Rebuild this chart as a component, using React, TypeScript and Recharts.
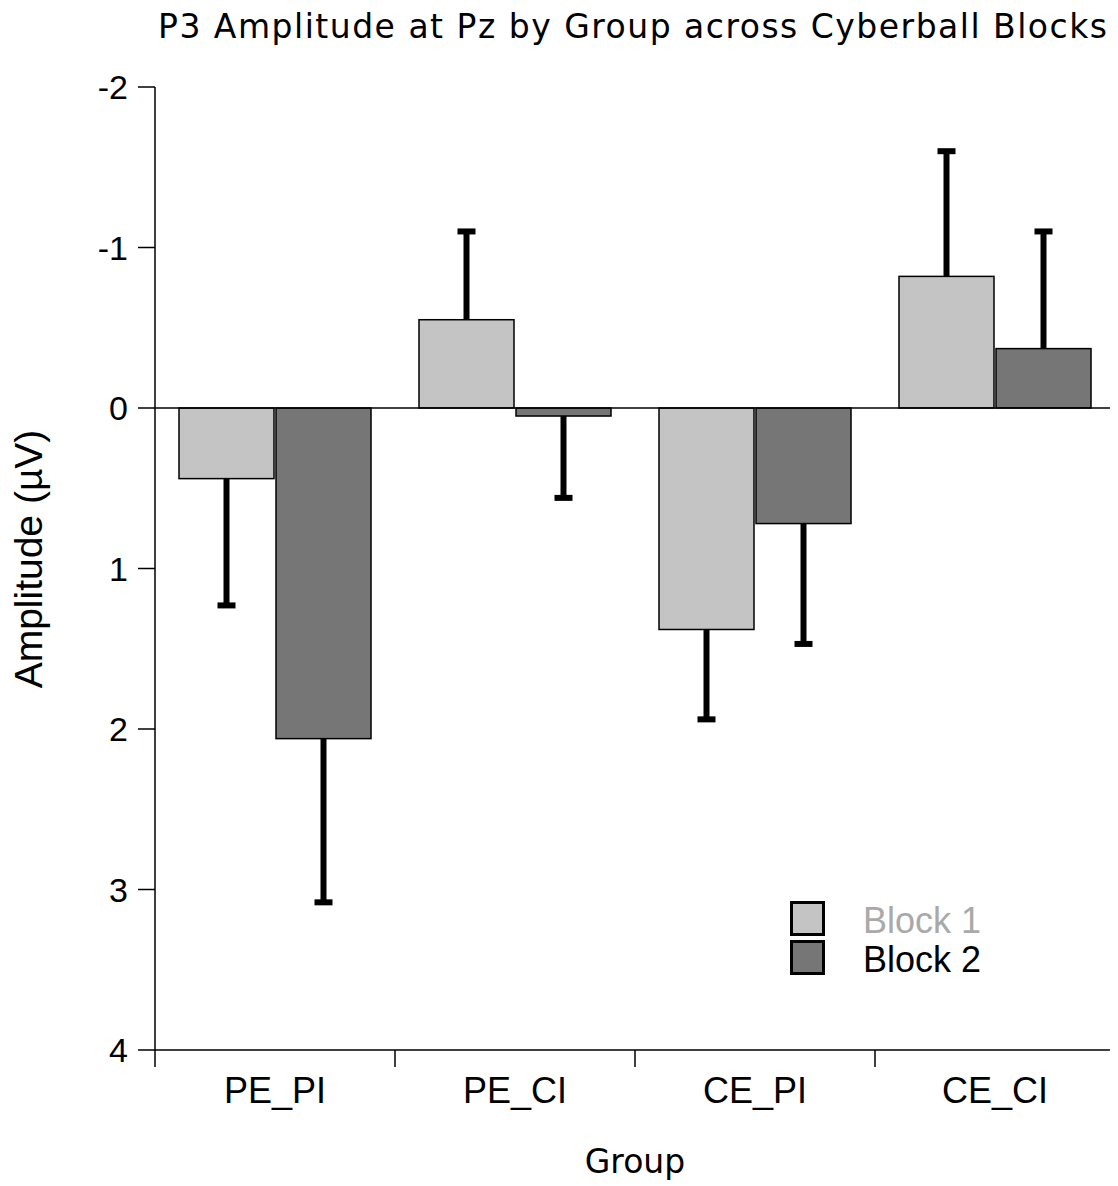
import React from "react";
import { BarChart, Bar, XAxis, YAxis, ReferenceLine, Legend } from "recharts";

const groups = ["PE_PI", "PE_CI", "CE_PI", "CE_CI"];
const block1 = [0.44, -0.55, 1.38, -0.82];
const block2 = [2.06, 0.05, 0.72, -0.37];
const block1Err = [0.79, 0.55, 0.56, 0.78];
const block2Err = [1.02, 0.51, 0.75, 0.73];
const yTicks = [-2, -1, 0, 1, 2, 3, 4];

const data = groups.map((g, i) => ({
  group: g,
  b1: block1[i],
  b2: block2[i],
  b1Err: block1Err[i],
  b2Err: block2Err[i],
}));

const W = 1110;
const H = 1178;
const arial = "'Liberation Sans', Arial, Helvetica, sans-serif";
const lucida = "'DejaVu Sans', 'Open Sans', sans-serif";
const B1_FILL = "#c4c4c4";
const B2_FILL = "#767676";
const legendText: Record<string, string> = { b1: "#a9a9a9", b2: "#000" };

// bar rect + one-sided error bar pointing away from zero (axis is reversed)
function barWithError(props: any, valKey: string, errKey: string) {
  const { x, y, width, height, fill, payload } = props;
  const v = payload[valKey];
  const err = payload[errKey];
  const top = Math.min(y, y + height);
  const h = Math.abs(height);
  const pxPerUnit = v !== 0 ? h / Math.abs(v) : 0;
  const endY = v > 0 ? top + h : top;
  const dir = v > 0 ? 1 : -1;
  const tipY = endY + dir * err * pxPerUnit;
  const cx = x + width / 2;
  return (
    <g>
      <rect x={x} y={top} width={width} height={h} fill={fill} stroke="#000" strokeWidth={1.5} />
      <line x1={cx} x2={cx} y1={endY} y2={tipY} stroke="#000" strokeWidth={6} />
      <line x1={cx - 9} x2={cx + 9} y1={tipY} y2={tipY} stroke="#000" strokeWidth={6} />
    </g>
  );
}

const TICK_SIZE = 17;
const X_TICK_MARGIN = 36;

function GroupTick(props: any) {
  const { x, y, payload } = props;
  const half = payload.offset ?? 0;
  const axisY = y - TICK_SIZE - X_TICK_MARGIN;
  return (
    <g>
      {payload.index === 0 && (
        <line x1={x - half} x2={x - half} y1={axisY} y2={axisY + TICK_SIZE} stroke="#000" strokeWidth={1.5} />
      )}
      <line x1={x + half} x2={x + half} y1={axisY} y2={axisY + TICK_SIZE} stroke="#000" strokeWidth={1.5} />
      <text x={x} y={y} textAnchor="middle" fontSize={36} fontFamily={arial} fill="#000">
        {payload.value}
      </text>
    </g>
  );
}

function LegendBox(props: any) {
  const items = props.payload || [];
  return (
    <svg width={240} height={80} style={{ display: "block" }}>
      {items.map((it: any, i: number) => (
        <g key={it.dataKey}>
          <rect x={1.5} y={1.5 + i * 39} width={32} height={32} fill={it.color} stroke="#000" strokeWidth={3} />
          <text x={73} y={32 + i * 39} fontSize={36} fontFamily={arial} fill={legendText[it.dataKey]}>
            {it.value}
          </text>
        </g>
      ))}
    </svg>
  );
}

export default function App() {
  return (
    <div style={{ position: "relative", width: W, height: H, background: "#fff" }}>
      <BarChart
        width={W}
        height={H}
        data={data}
        margin={{ top: 79, right: 3, left: 0, bottom: 0 }}
        barCategoryGap={24}
        barGap={2}
      >
        <XAxis
          dataKey="group"
          height={136}
          tickSize={TICK_SIZE}
          tickMargin={X_TICK_MARGIN}
          tickLine={false}
          axisLine={{ stroke: "#000", strokeWidth: 1.5 }}
          tick={<GroupTick />}
          interval={0}
        />
        <YAxis
          width={147}
          reversed
          domain={[-2, 4]}
          ticks={yTicks}
          interval={0}
          tickSize={TICK_SIZE}
          tickMargin={10}
          axisLine={{ stroke: "#000", strokeWidth: 1.5 }}
          tickLine={{ stroke: "#000", strokeWidth: 1.5 }}
          tick={{ fontSize: 34, fontFamily: arial, fill: "#000" }}
        />
        <ReferenceLine y={0} stroke="#000" strokeWidth={1.5} />
        <Bar
          dataKey="b1"
          name="Block 1"
          fill={B1_FILL}
          isAnimationActive={false}
          shape={(p: any) => barWithError(p, "b1", "b1Err")}
        />
        <Bar
          dataKey="b2"
          name="Block 2"
          fill={B2_FILL}
          isAnimationActive={false}
          shape={(p: any) => barWithError(p, "b2", "b2Err")}
        />
        <Legend
          layout="vertical"
          align="center"
          verticalAlign="middle"
          content={<LegendBox />}
          wrapperStyle={{ left: 782, top: 893, width: 240, height: 80 }}
        />
      </BarChart>
      <svg
        width={W}
        height={H}
        style={{ position: "absolute", left: 0, top: 0, pointerEvents: "none" }}
      >
        <text x={150} y={30} fontSize={33} fontFamily={lucida} fill="#000" textLength={949} lengthAdjust="spacing">
          P3 Amplitude at Pz by Group across Cyberball Blocks
        </text>
        <text
          x={34}
          y={551}
          fontSize={39}
          fontFamily={arial}
          fill="#000"
          textAnchor="middle"
          transform="rotate(-90 34 551)"
        >
          Amplitude (µV)
        </text>
        <text x={627} y={1165} fontSize={33} fontFamily={lucida} fill="#000" textAnchor="middle">
          Group
        </text>
      </svg>
    </div>
  );
}
